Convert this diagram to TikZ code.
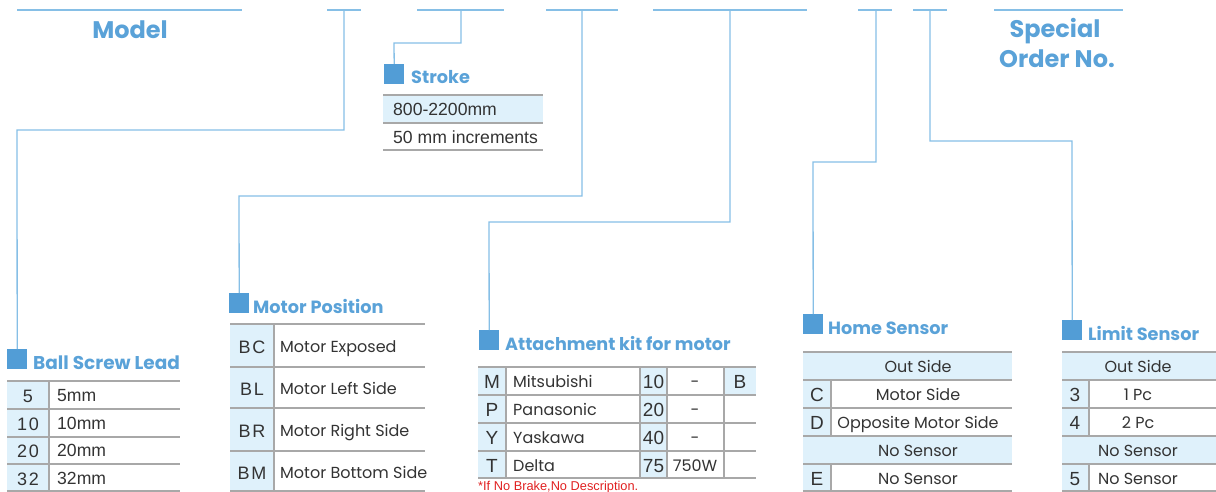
\documentclass[tikz,border=0pt]{standalone}
\usepackage{fontspec}
\setmainfont{Poppins}
\newfontfamily\arial{Liberation Sans}
\newfontfamily\arialsp{Liberation Sans}[LetterSpace=9]
\definecolor{hblue}{HTML}{5AA2D8}
\definecolor{sqblue}{HTML}{529DD6}
\definecolor{lblue}{HTML}{86BFE6}
\definecolor{cellbl}{HTML}{DFF1FB}
\definecolor{gridc}{HTML}{A8A8A8}
\definecolor{txt}{HTML}{333333}
\definecolor{noteRed}{HTML}{E02020}
\tikzset{
  conn/.style={draw=lblue, line width=1.3pt},
  topline/.style={draw=lblue, line width=1.3pt},
  sq/.style={fill=sqblue, minimum width=20pt, minimum height=20pt, inner sep=0pt, anchor=north west},
  head/.style={text=hblue, font=\bfseries\fontsize{17.7}{20}\selectfont, anchor=base west, inner sep=0pt},
  big/.style={text=hblue, font=\bfseries\fontsize{24}{28}\selectfont, anchor=base, inner sep=0pt},
  gl/.style={draw=gridc, line width=1.1pt},
  bfill/.style={fill=cellbl},
  ctx/.style={text=txt, font=\fontsize{16}{18}\selectfont, anchor=base, inner sep=0pt, yshift=-6.6pt},
  ctxl/.style={ctx, anchor=base west},
  arx/.style={text=txt, font=\arial\fontsize{17.6}{20}\selectfont, anchor=base, inner sep=0pt, yshift=-6.8pt},
  arxl/.style={arx, anchor=base west},
  arxs/.style={text=txt, font=\arialsp\fontsize{18}{21}\selectfont, anchor=base, inner sep=0pt, yshift=-7.2pt},
  arxb/.style={text=txt, font=\arial\fontsize{19}{22}\selectfont, anchor=base, inner sep=0pt, yshift=-7.4pt},
}
\begin{document}
\begin{tikzpicture}[x=1pt,y=-1pt]
\useasboundingbox (0,0) rectangle (1216,492);

% ---- top code line ----
\draw[topline] (17,10) -- (242,10);
\draw[topline] (327,10) -- (361,10);
\draw[topline] (417,10) -- (504,10);
\draw[topline] (546,10) -- (618,10);
\draw[topline] (653,10) -- (807,10);
\draw[topline] (858,10) -- (892,10);
\draw[topline] (913,10) -- (947,10);
\draw[topline] (994,10) -- (1123,10);
\coordinate (t2) at (344,10);
\coordinate (t3) at (461,10);
\coordinate (t4) at (582,10);
\coordinate (t5) at (730,10);
\coordinate (t6) at (876,10);
\coordinate (t7) at (930,10);

\node[big] (model) at (130,39) {Model};
\node[big] (spec1) at (1055,38) {Special};
\node[big] (spec2) at (1057,68) {Order No.};

% ---- section squares and headings ----
\node[sq] (bsq) at (7,349) {};
\node[head, font=\bfseries\fontsize{18.5}{22}\selectfont] (bhd) at (33,369) {Ball Screw Lead};
\node[sq] (ssq) at (384,64) {};
\node[head] (shd) at (411,84) {Stroke};
\node[sq] (msq) at (229,293) {};
\node[head] (mhd) at (253,313) {Motor Position};
\node[sq] (asq) at (479,330) {};
\node[head, font=\bfseries\fontsize{17.6}{22}\selectfont] (ahd) at (505,350) {Attachment kit for motor};
\node[sq] (hsq) at (803,314) {};
\node[head] (hhd) at (828,334) {Home Sensor};
\node[sq] (lsq) at (1062,320) {};
\node[head] (lhd) at (1088,340) {Limit Sensor};

% ---- connectors ----
\coordinate (b1) at (344,130);
\coordinate (b2) at (17,130);
\draw[conn] (t2) -- (b1) -- (b2) -- (bsq.north);
\coordinate (s1) at (461,43);
\coordinate (s2) at (394,43);
\draw[conn] (t3) -- (s1) -- (s2) -- (ssq.north);
\coordinate (m1) at (582,196);
\coordinate (m2) at (239,196);
\draw[conn] (t4) -- (m1) -- (m2) -- (msq.north);
\coordinate (a1) at (730,222);
\coordinate (a2) at (489,222);
\draw[conn] (t5) -- (a1) -- (a2) -- (asq.north);
\coordinate (h1) at (876,162);
\coordinate (h2) at (813,162);
\draw[conn] (t6) -- (h1) -- (h2) -- (hsq.north);
\coordinate (l1) at (930,141);
\coordinate (l2) at (1072,141);
\draw[conn] (t7) -- (l1) -- (l2) -- (lsq.north);

% ---- Stroke table ----
\fill[bfill] (383,95) rectangle (543,123);
\foreach \y in {95,123,150} \draw[gl] (383,\y) -- (543,\y);
\node[arxl] (s800) at (393,109) {800-2200mm};
\node[arxl] (s50) at (393,137) {50 mm increments};

% ---- Ball screw lead table ----
\fill[bfill] (7,381) rectangle (49,492);
\foreach \y in {381,409,437,464,491} \draw[gl] (7,\y) -- (180,\y);
\draw[gl] (49,381) -- (49,492);
\foreach \v/\y in {5/395,10/423,20/450,32/478}{
  \node[arxs] at (28,\y) {\v};
  \node[arxl] at (57,\y) {\v mm};
}

% ---- Motor position table ----
\fill[bfill] (230,324) rectangle (274,492);
\foreach \y in {324,367,408,451,491} \draw[gl] (230,\y) -- (425,\y);
\draw[gl] (274,324) -- (274,492);
\foreach \c/\t/\y in {BC/Motor Exposed/346, BL/Motor Left Side/388, BR/Motor Right Side/430, BM/Motor Bottom Side/472}{
  \node[arxs] at (252,\y) {\c};
  \node[ctxl] at (280,\y) {\t};
}

% ---- Attachment kit table ----
\fill[bfill] (478,367) rectangle (506,478);
\fill[bfill] (640,367) rectangle (667,478);
\fill[bfill] (724,367) rectangle (756,395);
\foreach \y in {367,395,423,451,478} \draw[gl] (478,\y) -- (756,\y);
\foreach \x in {506,640,667,724} \draw[gl] (\x,367) -- (\x,478);
\foreach \c/\t/\n/\w/\y in {M/Mitsubishi/10/-/381, P/Panasonic/20/-/409, Y/Yaskawa/40/-/437, T/Delta/75/750W/465}{
  \node[arxb] at (492,\y) {\c};
  \node[ctxl] at (513,\y) {\t};
  \node[arxb] at (653.5,\y) {\n};
  \node[ctx] at (695,\y) {\w};
}
\node[arxb] (brk) at (740,381) {B};
\node[text=noteRed, font=\arial\fontsize{12.8}{15}\selectfont, anchor=base west, inner sep=0pt] (note) at (478,490) {*If No Brake,No Description.};

% ---- Home sensor table ----
\fill[bfill] (803,352) rectangle (1012,380);
\fill[bfill] (803,436) rectangle (1012,464);
\fill[bfill] (803,380) rectangle (831,436);
\fill[bfill] (803,464) rectangle (831,492);
\foreach \y in {352,380,408,436,464,491} \draw[gl] (803,\y) -- (1012,\y);
\draw[gl] (831,380) -- (831,436);
\draw[gl] (831,464) -- (831,492);
\node[ctx] at (918,366) {Out Side};
\node[arxb] at (817,394) {C};
\node[ctx] at (918,394) {Motor Side};
\node[arxb] at (817,422) {D};
\node[ctx] at (918,422) {Opposite Motor Side};
\node[ctx] at (918,450) {No Sensor};
\node[arxb] at (817,478) {E};
\node[ctx] at (918,478) {No Sensor};

% ---- Limit sensor table ----
\fill[bfill] (1062,352) rectangle (1216,380);
\fill[bfill] (1062,436) rectangle (1216,464);
\fill[bfill] (1062,380) rectangle (1089,436);
\fill[bfill] (1062,464) rectangle (1089,492);
\foreach \y in {352,380,408,436,464,491} \draw[gl] (1062,\y) -- (1216,\y);
\draw[gl] (1089,380) -- (1089,436);
\draw[gl] (1089,464) -- (1089,492);
\node[ctx] at (1138,366) {Out Side};
\node[arxb] at (1075,394) {3};
\node[ctx] at (1138,394) {1 Pc};
\node[arxb] at (1075,422) {4};
\node[ctx] at (1138,422) {2 Pc};
\node[ctx] at (1138,450) {No Sensor};
\node[arxb] at (1075,478) {5};
\node[ctx] at (1138,478) {No Sensor};
\end{tikzpicture}
\end{document}
